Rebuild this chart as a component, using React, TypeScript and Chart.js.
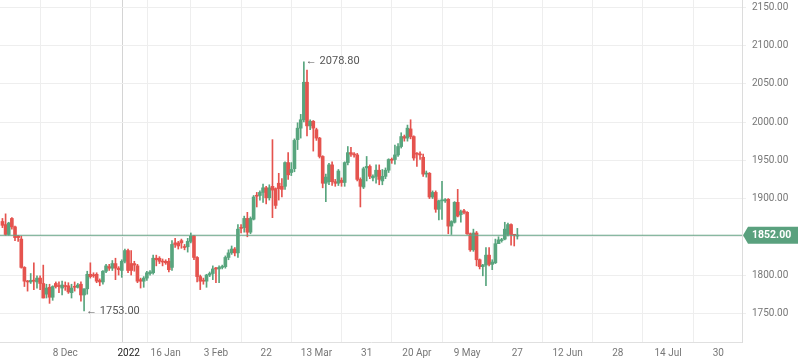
import React, { useEffect, useRef } from 'react';
import { Chart, registerables } from 'chart.js';

Chart.register(...registerables);

// OHLC values per bar (bar index 0..164)
const opens = [
  1870, 1866, 1853, 1874, 1863, 1851, 1847, 1810, 1792, 1791, 1793, 1791, 1796, 1789, 1775, 1784, 1771, 1789, 1786, 1783,
  1786, 1786, 1777, 1785, 1784, 1788, 1774, 1782, 1801, 1800, 1801, 1793, 1791, 1805, 1811, 1809, 1815, 1809, 1806, 1818,
  1832, 1815, 1815, 1812, 1794, 1792, 1796, 1802, 1803, 1822, 1822, 1818, 1818, 1818, 1810, 1842, 1842, 1845, 1837, 1837,
  1844, 1851, 1823, 1798, 1793, 1792, 1800, 1802, 1809, 1808, 1810, 1811, 1823, 1829, 1834, 1829, 1862, 1862, 1874, 1856,
  1873, 1904, 1904, 1908, 1914, 1901, 1916, 1913, 1920, 1916, 1916, 1947, 1934, 1939, 1977, 1992, 2003, 2052, 1995, 2001,
  1990, 1979, 1955, 1920, 1922, 1944, 1922, 1920, 1924, 1921, 1947, 1960, 1958, 1957, 1925, 1915, 1940, 1942, 1927, 1929,
  1937, 1923, 1929, 1937, 1951, 1951, 1957, 1968, 1981, 1979, 1991, 1981, 1959, 1958, 1954, 1932, 1933, 1902, 1908, 1886,
  1897, 1897, 1899, 1864, 1869, 1895, 1879, 1884, 1882, 1854, 1833, 1855, 1820, 1811, 1813, 1826, 1814, 1816, 1841, 1845,
  1847, 1853, 1866, 1853, 1851,
];
const highs = [
  1874, 1880, 1869, 1875, 1864, 1852, 1851, 1811, 1793, 1802, 1816, 1799, 1799, 1813, 1788, 1788, 1786, 1791, 1791, 1792,
  1791, 1790, 1788, 1791, 1789, 1791, 1782, 1805, 1816, 1803, 1803, 1795, 1806, 1814, 1814, 1819, 1822, 1811, 1820, 1834,
  1834, 1832, 1818, 1814, 1796, 1798, 1805, 1806, 1826, 1826, 1824, 1821, 1820, 1822, 1845, 1848, 1844, 1847, 1840, 1848,
  1855, 1852, 1824, 1800, 1796, 1801, 1804, 1812, 1810, 1812, 1813, 1825, 1833, 1838, 1836, 1866, 1866, 1877, 1882, 1876,
  1904, 1908, 1910, 1919, 1916, 1918, 1977, 1914, 1933, 1926, 1948, 1960, 1947, 1978, 1999, 2010, 2078.8, 2068, 2003, 2002,
  1992, 1980, 1956, 1932, 1946, 1948, 1925, 1938, 1927, 1948, 1968, 1967, 1960, 1959, 1927, 1941, 1955, 1944, 1931, 1944,
  1944, 1938, 1940, 1952, 1953, 1970, 1972, 1986, 1983, 1996, 2003, 1982, 1960, 1961, 1958, 1936, 1934, 1910, 1910, 1898,
  1922.6, 1900, 1900, 1871, 1896, 1912, 1885, 1886, 1883, 1855, 1860, 1857, 1821, 1814, 1836, 1836, 1820, 1847, 1850, 1848,
  1869, 1868, 1867, 1853, 1861,
];
const lows = [
  1862, 1852, 1852, 1860, 1845, 1844, 1809, 1785, 1779, 1789, 1781, 1783, 1781, 1770, 1770, 1763, 1767, 1783, 1777, 1774,
  1780, 1776, 1770, 1779, 1783, 1766, 1753, 1775, 1796, 1797, 1790, 1786, 1788, 1803, 1806, 1806, 1794, 1800, 1797, 1816,
  1803, 1800, 1805, 1790, 1783, 1784, 1793, 1800, 1801, 1812, 1815, 1812, 1814, 1804, 1806, 1836, 1834, 1835, 1833, 1830,
  1842, 1820, 1791, 1781, 1788, 1784, 1798, 1794, 1790, 1790, 1808, 1809, 1820, 1827, 1825, 1823, 1855, 1856, 1850, 1854,
  1872, 1889, 1898, 1895, 1893, 1898, 1875, 1887, 1898, 1902, 1912, 1925, 1930, 1935, 1964, 1979, 2000, 1982, 1990, 1962,
  1976, 1953, 1914, 1896, 1918, 1917, 1916, 1917, 1916, 1916, 1944, 1955, 1954, 1923, 1889, 1913, 1923, 1926, 1923, 1920,
  1918, 1918, 1926, 1934, 1946, 1945, 1955, 1966, 1975, 1975, 1978, 1950, 1942, 1951, 1929, 1928, 1900, 1900, 1882, 1872,
  1872.6, 1895, 1854, 1853, 1868, 1876, 1869, 1880, 1853, 1831, 1831, 1812, 1808, 1799, 1786, 1812, 1807, 1815, 1841, 1843,
  1846, 1851, 1839, 1838, 1847,
];
const closes = [
  1865, 1853, 1868, 1863, 1849, 1849, 1810, 1792, 1791, 1793, 1792, 1796, 1789, 1770, 1783, 1771, 1785, 1785, 1785, 1787,
  1785, 1778, 1783, 1784, 1787, 1774, 1782, 1801, 1798, 1799, 1792, 1791, 1805, 1812, 1809, 1815, 1809, 1807, 1818, 1832,
  1806, 1806, 1813, 1792, 1792, 1796, 1803, 1804, 1822, 1820, 1818, 1817, 1816, 1807, 1840, 1840, 1838, 1842, 1836, 1844,
  1851, 1823, 1798, 1792, 1792, 1800, 1802, 1808, 1808, 1810, 1811, 1823, 1829, 1834, 1829, 1860, 1861, 1874, 1856, 1874,
  1902, 1903, 1908, 1914, 1901, 1914, 1911, 1891, 1913, 1912, 1947, 1931, 1938, 1976, 1992, 2003, 2052, 1995, 2001, 1992,
  1979, 1955, 1920, 1928, 1944, 1922, 1920, 1936, 1921, 1947, 1960, 1958, 1957, 1925, 1916, 1939, 1942, 1929, 1929, 1937,
  1925, 1929, 1937, 1951, 1950, 1957, 1968, 1981, 1979, 1992, 1981, 1953, 1958, 1957, 1932, 1933, 1902, 1908, 1886, 1897,
  1898, 1898.5, 1864, 1870, 1895, 1877, 1883, 1882, 1854, 1833, 1855, 1820, 1811, 1813, 1826, 1814, 1817, 1841, 1846, 1846,
  1860, 1866, 1853, 1852, 1852,
];

// x-axis ticks (in bar-index units) and their labels
const tickPositions = [4, 20, 36, 40.2, 52, 68, 84, 100, 116, 132, 148, 164, 180, 196, 212, 228];
const tickLabels = ['', '8 Dec', '', '2022', '16 Jan', '3 Feb', '22', '13 Mar', '31', '20 Apr', '9 May', '27', '12 Jun', '28', '14 Jul', '30'];
const yearTickIndex = 3;

// y-axis ticks
const yTickValues = [1750, 1800, 1850, 1900, 1950, 2000, 2050, 2100, 2150];
const lastPrice = 1852.0;

const X_MIN = -0.78;
const X_MAX = 235.55;
const Y_MIN = 1712.5;
const Y_MAX = 2159.5;

const GREEN = '#58a57e';
const RED = '#e5534e';
const LINE = '#64a284';
const BADGE = '#5aa17e';
const FONT = 'Roboto, "Noto Sans", sans-serif';

const isUp = (i: number) => closes[i] >= opens[i];

const overlayPlugin = {
  id: 'overlay',
  afterDatasetsDraw(chart: any) {
    const { ctx, chartArea, scales } = chart;
    const x = scales.x;
    const y = scales.y;
    let iMax = 0;
    let iMin = 0;
    highs.forEach((h, i) => { if (h > highs[iMax]) iMax = i; });
    lows.forEach((l, i) => { if (l < lows[iMin]) iMin = i; });
    ctx.save();
    ctx.font = `11px ${FONT}`;
    ctx.fillStyle = '#555';
    ctx.textAlign = 'left';
    ctx.textBaseline = 'middle';
    ctx.fillText('\u2190 ' + highs[iMax].toFixed(2), x.getPixelForValue(iMax) + 2, y.getPixelForValue(highs[iMax]));
    ctx.fillText('\u2190 ' + lows[iMin].toFixed(2), x.getPixelForValue(iMin) + 2, y.getPixelForValue(lows[iMin]));

    // last price badge
    const py = y.getPixelForValue(lastPrice);
    const left = chartArea.right + 1;
    const right = chart.width;
    const hh = 8.5;
    ctx.fillStyle = BADGE;
    ctx.beginPath();
    ctx.moveTo(left, py);
    ctx.lineTo(left + 5, py - hh);
    ctx.lineTo(right, py - hh);
    ctx.lineTo(right, py + hh);
    ctx.lineTo(left + 5, py + hh);
    ctx.closePath();
    ctx.fill();
    ctx.fillStyle = '#ffffff';
    ctx.font = `bold 10.5px ${FONT}`;
    ctx.fillText(lastPrice.toFixed(2), chartArea.right + 10, py + 0.5);
    ctx.restore();
  },
};

export default function App() {
  const ref = useRef<HTMLCanvasElement | null>(null);

  useEffect(() => {
    if (!ref.current) return;
    const wicks = highs.map((h, i) => ({ x: i, y: [lows[i], h] }));
    const bodies = opens.map((o, i) => ({ x: i, y: [o, closes[i]] }));
    const priceLine = [
      { x: X_MIN, y: lastPrice },
      { x: X_MAX, y: lastPrice },
    ];
    const colorFn = (c: any) => (isUp(c.dataIndex) ? GREEN : RED);

    const chart = new Chart(ref.current, {
      type: 'bar',
      data: {
        datasets: [
          {
            type: 'line',
            data: priceLine as any,
            borderColor: LINE,
            borderWidth: 1,
            pointRadius: 0,
            order: 0,
          } as any,
          {
            type: 'bar',
            data: bodies as any,
            backgroundColor: colorFn,
            barThickness: 3,
            minBarLength: 1,
            grouped: false,
            order: 1,
          } as any,
          {
            type: 'bar',
            data: wicks as any,
            backgroundColor: colorFn,
            barThickness: 1,
            grouped: false,
            order: 2,
          } as any,
        ],
      },
      options: {
        animation: false,
        responsive: false,
        maintainAspectRatio: false,
        devicePixelRatio: 1,
        layout: { padding: 0 },
        plugins: {
          legend: { display: false },
          tooltip: { enabled: false },
        },
        scales: {
          x: {
            type: 'linear',
            min: X_MIN,
            max: X_MAX,
            offset: false,
            afterBuildTicks: (s: any) => {
              s.ticks = tickPositions.map((v) => ({ value: v }));
            },
            afterFit: (s: any) => {
              s.height = 21;
              s.paddingLeft = 0;
              s.paddingRight = 0;
            },
            ticks: {
              autoSkip: false,
              maxRotation: 0,
              minRotation: 0,
              padding: 5,
              font: { family: FONT, size: 10 },
              color: (c: any) => (c.index === yearTickIndex ? '#222' : '#777'),
              callback: (_v: any, i: number) => tickLabels[i],
            },
            grid: {
              color: (c: any) => (c.index === yearTickIndex ? '#d4d4d4' : '#eeeeee'),
              drawTicks: false,
            },
            border: { color: '#e0e0e0' },
          } as any,
          y: {
            type: 'linear',
            position: 'right',
            min: Y_MIN,
            max: Y_MAX,
            afterBuildTicks: (s: any) => {
              s.ticks = yTickValues.map((v) => ({ value: v }));
            },
            afterFit: (s: any) => {
              s.width = 56;
              s.paddingTop = 0;
              s.paddingBottom = 0;
            },
            ticks: {
              padding: 6,
              color: '#777',
              font: { family: FONT, size: 10 },
              callback: (v: any) => Number(v).toFixed(2),
            },
            grid: { color: '#eeeeee', tickLength: 4 },
            border: { color: '#dcdcdc' },
          } as any,
        },
      },
      plugins: [overlayPlugin],
    });
    return () => chart.destroy();
  }, []);

  return (
    <div style={{ position: 'fixed', left: 0, top: 0, width: 798, height: 363, background: '#fff' }}>
      <canvas ref={ref} width={798} height={363} style={{ display: 'block' }} />
    </div>
  );
}
